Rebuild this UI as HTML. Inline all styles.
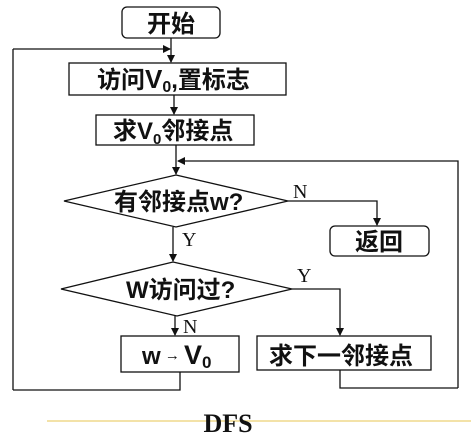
<!DOCTYPE html>
<html><head><meta charset="utf-8"><style>
html,body{margin:0;padding:0;background:#fff;width:471px;height:434px;overflow:hidden}
svg{display:block}
.c{font-family:"Liberation Sans","Noto Sans CJK SC",sans-serif;font-weight:bold;font-size:24px;fill:#111}
.s{font-family:"Liberation Serif","Noto Serif CJK SC",serif;font-size:20px;fill:#111}
</style></head><body>
<svg width="471" height="434" viewBox="0 0 471 434" xmlns="http://www.w3.org/2000/svg">
<defs><marker id="a" markerWidth="8" markerHeight="8" refX="7" refY="4" orient="auto" markerUnits="userSpaceOnUse"><path d="M0,0 L8,4 L0,8 Z" fill="#111"/></marker></defs>
<g stroke="#111" stroke-width="1.3" fill="none">
<rect x="122" y="7" width="98" height="31" rx="5"/>
<rect x="69" y="63" width="217" height="32"/>
<rect x="96" y="115" width="158" height="30"/>
<polygon points="176,175 288,201 176,227 64,201"/>
<rect x="330" y="226" width="99" height="30" rx="5"/>
<polygon points="173,262 292,289 177,316 61,289"/>
<rect x="121" y="336" width="118" height="36"/>
<rect x="257" y="336" width="174" height="34"/>
<line x1="171" y1="38" x2="171" y2="62" marker-end="url(#a)"/>
<line x1="13" y1="49" x2="170" y2="49" marker-end="url(#a)"/>
<line x1="13" y1="49" x2="13" y2="390"/>
<line x1="174" y1="95" x2="174" y2="114" marker-end="url(#a)"/>
<line x1="176" y1="145" x2="176" y2="174" marker-end="url(#a)"/>
<polyline points="458,388 458,161 178,161" marker-end="url(#a)"/>
<polyline points="288,201 377,201 377,225" marker-end="url(#a)"/>
<line x1="173" y1="227" x2="173" y2="261" marker-end="url(#a)"/>
<polyline points="292,289 340,289 340,335" marker-end="url(#a)"/>
<line x1="175" y1="316" x2="175" y2="335" marker-end="url(#a)"/>
<polyline points="180,372 180,390 13,390"/>
<polyline points="340,370 340,388 458,388"/>
</g>
<line x1="47" y1="421" x2="471" y2="421" stroke="#f3e2a8" stroke-width="2"/>
<text class="c" x="171" y="32" text-anchor="middle">开始</text>
<text class="c" x="97" y="88">访问<tspan font-size="26">V</tspan><tspan font-size="16" dy="4">0</tspan><tspan dy="-4">,置标志</tspan></text>
<text class="c" x="113" y="139">求V<tspan font-size="15" dy="5">0</tspan><tspan dy="-5">邻接点</tspan></text>
<text class="c" x="114" y="210">有邻接点w?</text>
<text class="c" x="126" y="298" font-size="21">W访问过?</text>
<text class="c" x="142" y="364" font-size="26">w<tspan font-size="15" font-weight="normal" dy="-4"> → </tspan><tspan dy="4" font-size="27">V</tspan><tspan font-size="17" dy="4">0</tspan></text>
<text class="c" x="269" y="364">求下一邻接点</text>
<text class="c" x="379" y="250" text-anchor="middle">返回</text>
<text class="s" x="293" y="198">N</text>
<text class="s" x="182" y="246">Y</text>
<text class="s" x="297" y="282">Y</text>
<text class="s" x="183" y="333">N</text>
<text x="228" y="432" text-anchor="middle" font-family="Liberation Serif,serif" font-weight="bold" font-size="26" fill="#111">DFS</text>
</svg>
</body></html>
